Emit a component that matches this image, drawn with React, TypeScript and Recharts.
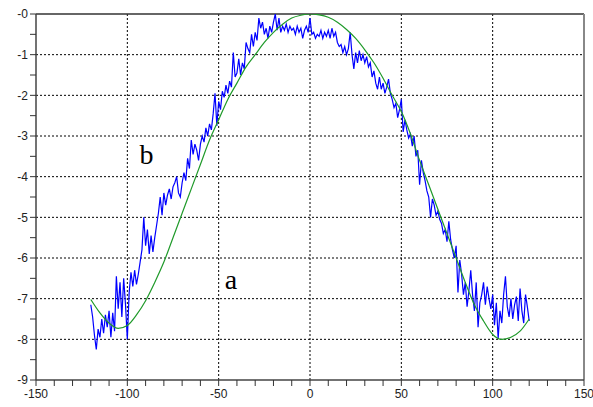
import { LineChart, Line, XAxis, YAxis, ReferenceLine, ReferenceDot } from 'recharts';

// curve a (smooth fit), read every 5 units
const fitX = [
  -120, -115, -110, -105, -100, -95, -90, -85, -80, -75, -70, -65, -60, -55, -50, -45, -40, -35, -30, -25, -20, -15, -10,
  -5, 0, 5, 10, 15, 20, 25, 30, 35, 40, 45, 50, 55, 60, 65, 70, 75, 80, 85, 90, 95, 100, 105, 110, 115, 120,
];
const fitY = [
  -7.02, -7.35, -7.6, -7.73, -7.66, -7.4, -7.05, -6.6, -6.1, -5.5, -4.9, -4.3, -3.7, -3.1, -2.6, -2.1, -1.7, -1.3, -1.0,
  -0.7, -0.45, -0.25, -0.1, -0.03, 0, -0.02, -0.08, -0.2, -0.38, -0.6, -0.88, -1.2, -1.58, -2.0, -2.4, -2.95, -3.6, -4.2,
  -4.8, -5.4, -6.0, -6.6, -7.15, -7.55, -7.88, -8.0, -7.95, -7.8, -7.5,
];

// curve b (measured), x = -120 .. 120 step 1
const measStart = -120;
const measY = [
  -7.15, -7.45, -7.9, -8.25, -7.75, -7.95, -7.5, -7.85, -7.4, -7.7,
  -7.3, -7.95, -7.35, -7.8, -6.45, -7.25, -6.6, -7.45, -6.5, -7.15,
  -8.0, -6.85, -6.35, -6.7, -6.3, -6.65, -6.4, -6.1, -5.8, -5.0,
  -5.7, -5.3, -5.9, -5.45, -5.85, -5.5, -5.2, -4.9, -4.5, -4.95,
  -4.4, -4.7, -4.45, -4.3, -4.55, -4.25, -4.15, -4.0, -4.4, -4.5,
  -4.15, -3.9, -4.1, -3.55, -3.8, -3.1, -3.45, -3.2, -3.35, -3.6,
  -3.2, -3.0, -3.15, -2.8, -3.0, -2.7, -2.85, -2.45, -1.95, -2.75,
  -2.15, -2.35, -1.9, -2.05, -1.75, -1.95, -1.65, -1.8, -0.95, -1.55,
  -1.45, -1.1, -1.5, -1.2, -1.35, -0.7, -0.85, -0.95, -0.5, -0.8,
  -0.45, -0.65, -0.1, -0.35, -0.2, -0.5, -0.35, -0.6, -0.3, -0.45,
  -0.2, 0, -0.4, -0.1, -0.45, -0.3, -0.4, -0.25, -0.45, -0.3,
  -0.4, -0.35, -0.5, -0.3, -0.45, -0.35, -0.6, -0.4, -0.3, -0.45,
  -0.1, -0.5, -0.45, -0.6, -0.5, -0.55, -0.4, -0.6, -0.45, -0.55,
  -0.4, -0.6, -0.35, -0.55, -0.45, -0.7, -0.8, -0.75, -0.95, -0.8,
  -1.0, -0.85, -0.45, -1.0, -1.35, -0.95, -1.2, -0.9, -1.15, -1.0,
  -1.2, -1.05, -1.3, -1.2, -1.55, -1.4, -1.7, -1.85, -1.55, -1.85,
  -1.7, -1.95, -1.8, -1.6, -1.95, -2.1, -2.3, -2.2, -2.55, -2.35,
  -2.1, -2.9, -2.6, -2.85, -3.05, -2.95, -3.25, -3.0, -3.5, -3.35,
  -4.2, -3.6, -3.9, -4.1, -4.35, -4.5, -5.0, -4.55, -4.7, -4.95,
  -4.85, -5.05, -5.15, -5.4, -5.3, -5.6, -5.1, -5.55, -5.8, -6.0,
  -5.7, -6.85, -6.05, -6.4, -6.9, -6.6, -7.2, -6.8, -6.3, -6.9,
  -7.3, -6.6, -7.7, -7.1, -6.9, -6.6, -7.15, -6.7, -7.0, -7.25,
  -6.9, -7.65, -7.1, -7.98, -7.3, -7.6, -6.9, -6.45, -7.2, -7.45,
  -7.0, -7.5, -7.15, -6.95, -7.55, -6.75, -7.3, -7.6, -6.9, -7.2,
  -7.55,
];

const xTicks = [-150, -140, -130, -120, -110, -100, -90, -80, -70, -60, -50, -40, -30, -20, -10, 0,
  10, 20, 30, 40, 50, 60, 70, 80, 90, 100, 110, 120, 130, 140, 150];
const yTicks = [0, -0.5, -1, -1.5, -2, -2.5, -3, -3.5, -4, -4.5, -5, -5.5, -6, -6.5, -7, -7.5, -8, -8.5, -9];
const xGrid = [-100, -50, 0, 50, 100];
const yGrid = [-1, -2, -3, -4, -5, -6, -7, -8];

const fitData = fitX.map((x, i) => ({ x, y: fitY[i] }));
const measData = measY.map((y, i) => ({ x: measStart + i, y }));

const tickStyle = { fontSize: 12, fill: '#222', fontFamily: 'Liberation Sans, Arial, sans-serif' };

const serifLabel = (text: string) => (props: any) => {
  const { viewBox } = props;
  return (
    <text x={viewBox.x} y={viewBox.y} textAnchor="middle" fontSize={28} fontFamily="Liberation Serif, serif" fill="#000">
      {text}
    </text>
  );
};

export default function App() {
  return (
    <div style={{ position: 'absolute', left: 0, top: 0, background: '#fff' }}>
      <LineChart width={593} height={407} margin={{ top: 14, right: 9, bottom: 0, left: 0 }}>
        <XAxis
          type="number"
          dataKey="x"
          domain={[-150, 150]}
          ticks={xTicks}
          interval={0}
          tick={tickStyle}
          tickSize={6}
          tickMargin={3}
          height={27}
          tickLine={{ stroke: '#333' }}
          axisLine={{ stroke: '#444', strokeWidth: 1.5 }}
          tickFormatter={(v: number) => (v % 50 === 0 ? String(v) : '')}
          allowDataOverflow
        />
        <YAxis
          type="number"
          domain={[-9, 0]}
          ticks={yTicks}
          interval={0}
          width={36}
          tick={tickStyle}
          tickSize={6}
          tickMargin={2}
          tickLine={{ stroke: '#333' }}
          axisLine={{ stroke: '#444', strokeWidth: 1.5 }}
          tickFormatter={(v: number) => (Number.isInteger(v) ? (v === 0 ? '-0' : String(v)) : '')}
          allowDataOverflow
        />
        {xGrid.map((v) => (
          <ReferenceLine key={'gx' + v} x={v} stroke="#000" strokeDasharray="2 2" />
        ))}
        {yGrid.map((v) => (
          <ReferenceLine key={'gy' + v} y={v} stroke="#000" strokeDasharray="2 2" />
        ))}
        <ReferenceLine y={0} stroke="#333" strokeWidth={1.5} />
        <ReferenceLine x={150} stroke="#888" strokeWidth={2} />
        <Line
          data={measData}
          dataKey="y"
          type="linear"
          stroke="#0000ff"
          strokeWidth={1.2}
          dot={false}
          isAnimationActive={false}
        />
        <Line
          data={fitData}
          dataKey="y"
          type="monotone"
          stroke="#1f9a2a"
          strokeWidth={1.2}
          dot={false}
          isAnimationActive={false}
        />
        <ReferenceDot x={-89.5} y={-3.7} r={0} label={serifLabel('b')} />
        <ReferenceDot x={-43.2} y={-6.77} r={0} label={serifLabel('a')} />
      </LineChart>
    </div>
  );
}
